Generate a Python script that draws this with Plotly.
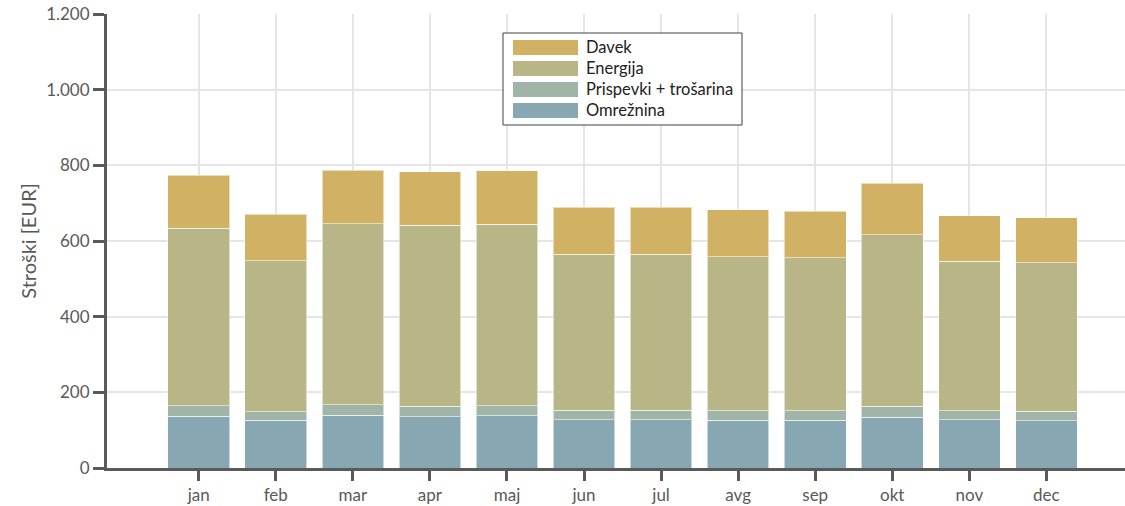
import plotly.graph_objects as go

months = ["jan", "feb", "mar", "apr", "maj", "jun", "jul", "avg", "sep", "okt", "nov", "dec"]
omreznina = [137, 126, 139, 136, 138, 128, 127, 126, 126, 134, 127, 125]
prispevki = [28, 23, 28, 27, 27, 25, 25, 25, 25, 29, 24, 25]
energija = [469, 399, 478, 478, 479, 412, 413, 407, 405, 453, 395, 392]
davek = [140, 123, 142, 142, 142, 124, 124, 124, 123, 136, 121, 119]

series_names = ["Omrežnina", "Prispevki + trošarina", "Energija", "Davek"]
series_vals = [omreznina, prispevki, energija, davek]
colors = ["#87A7B3", "#A0B5A8", "#B8B586", "#D1B265"]

FONT = "Lato"
TXT = "#595959"
AX = "#5a5a5a"
GRID = "#e6e4e6"

fig = go.Figure()
for name, vals, col in zip(series_names, series_vals, colors):
    fig.add_trace(go.Bar(
        x=months, y=vals, name=name, marker_color=col,
        marker_line=dict(color="rgba(255,255,255,0.55)", width=1),
        width=0.8, showlegend=False,
    ))

W, H = 1125, 506
L, R, T, B = 107, 0, 14, 38
pw, ph = W - L - R, H - T - B

def px(x):
    return (x - L) / pw

def py(y):
    return (H - B - y) / ph

shapes = [dict(type="rect", xref="paper", yref="paper",
               x0=px(503), x1=px(742), y0=py(125), y1=py(33),
               line=dict(color="#404040", width=1), fillcolor="white", layer="above")]
annotations = []
legend_order = [3, 2, 1, 0]
sw_tops = [40, 61, 82, 103]
for i, top in zip(legend_order, sw_tops):
    shapes.append(dict(type="rect", xref="paper", yref="paper",
                       x0=px(513), x1=px(578), y0=py(top + 15), y1=py(top),
                       line=dict(width=0), fillcolor=colors[i], layer="above"))
    annotations.append(dict(xref="paper", yref="paper", x=px(584), y=py(top + 7),
                            text=series_names[i], showarrow=False, xanchor="left",
                            yanchor="middle", font=dict(family=FONT, size=16.5, color="#222222")))

fig.update_layout(
    barmode="stack",
    width=W, height=H,
    margin=dict(l=L, r=R, t=T, b=B, pad=0),
    paper_bgcolor="white", plot_bgcolor="white",
    separators=",.",
    font=dict(family=FONT, size=15, color=TXT),
    shapes=shapes, annotations=annotations,
    xaxis=dict(
        range=[-1.19, 12.02],
        showgrid=True, gridcolor=GRID, gridwidth=2,
        showline=True, linecolor=AX, linewidth=3,
        ticks="outside", ticklen=10, tickwidth=3, tickcolor=AX,
        tickfont=dict(family=FONT, size=17, color=TXT),
        zeroline=False,
    ),
    yaxis=dict(
        range=[0, 1200], dtick=200, tickformat=",d",
        showgrid=True, gridcolor=GRID, gridwidth=2,
        showline=True, linecolor=AX, linewidth=3,
        ticks="outside", ticklen=11, tickwidth=3, tickcolor=AX,
        tickfont=dict(family=FONT, size=17, color=TXT),
        title=dict(text="Stroški [EUR]", font=dict(family=FONT, size=20, color=TXT), standoff=5),
        zeroline=False,
    ),
)

fig.write_html("out.html")
